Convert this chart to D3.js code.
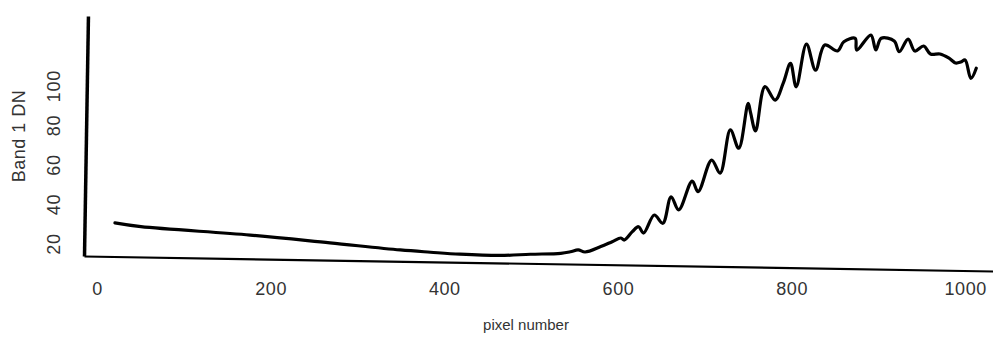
<!DOCTYPE html>
<html>
<head>
<meta charset="utf-8">
<script src="https://cdn.jsdelivr.net/npm/d3@7"></script>
<style>
  html, body { margin: 0; padding: 0; background: #fff; }
  svg { display: block; }
  text { font-family: "Liberation Sans", Arial, Helvetica, sans-serif; fill: #333; }
</style>
</head>
<body>
<svg id="chart" width="993" height="338"></svg>
<script>
// ---- data ----
const pixelNumber = [20,50,176,268,349,384,418,464,499,534,545,554,562,580,593,603,607,616,623,629,641,651,660,669,684,691,706,716,727,737,747,750,756,766,778,787,795,802,813,824,834,849,856,869,871,887,893,899,914,920,930,938,948,956,967,977,985,991,996,1003,1009];
const band1DN = [30.7,29,25.7,22.4,19.4,18.5,17.75,17.45,18.3,19.05,19.9,20.9,19.9,22.8,25.35,27.3,26.3,30.6,33.15,30.0,39.2,35.1,48.6,42,56.7,51.4,67.5,60.9,82.9,73.7,96.5,91.7,82.6,105.1,98.4,107,117.1,105.3,127,113.9,126.7,123.8,128.5,130.3,124.4,132.1,124.6,130.6,129.3,123.9,130.4,124.4,127,123,123.1,121.2,118.7,119.2,120.3,111,116.2];
const xTicks = [0,200,400,600,800,1000];
const yTicks = [20,40,60,80,100];
const xTitle = "pixel number";
const yTitle = "Band 1 DN";

const svg = d3.select("#chart");
const x = d3.scaleLinear().domain([-15, 1032]).range([84, 993]);
const y = d3.scaleLinear().domain([13.7, 135.2]).range([256, 16]);

// slightly tilted plot frame (scanned figure)
const plot = svg.append("g").attr("transform", "rotate(0.945, 84, 256)");

const line = d3.line()
  .x((d, i) => x(pixelNumber[i]))
  .y(d => y(d))
  .curve(d3.curveCatmullRom.alpha(0.5));
plot.append("path")
  .datum(band1DN)
  .attr("d", line)
  .attr("fill", "none")
  .attr("stroke", "#000")
  .attr("stroke-width", 3.2)
  .attr("stroke-linejoin", "round")
  .attr("stroke-linecap", "round");

// axis lines
const xAxisLine = plot.append("g").attr("transform", `translate(0,${y.range()[0]})`)
  .call(d3.axisBottom(x).tickValues([]).tickSizeOuter(0));
xAxisLine.select(".domain").attr("stroke", "#000").attr("stroke-width", 2.2);
const yAxisLine = plot.append("g").attr("transform", `translate(${x.range()[0]},0)`)
  .call(d3.axisLeft(y).tickValues([]).tickSizeOuter(0));
yAxisLine.select(".domain").attr("stroke", "#000").attr("stroke-width", 3.5);

// x tick labels
const xLab = svg.append("g").attr("transform", "translate(0,279)")
  .call(d3.axisBottom(x).tickValues(xTicks).tickSize(0).tickFormat(d3.format("d")));
xLab.select(".domain").remove();
xLab.selectAll("text")
  .attr("font-size", 18)
  .attr("fill", "#333")
  .attr("letter-spacing", 0.6)
  .style("font-family", '"Liberation Sans", Arial, sans-serif');

// y tick labels (rotated)
const yLab = svg.append("g").attr("transform", "translate(84,0)")
  .call(d3.axisLeft(y).tickValues(yTicks).tickSize(0));
yLab.select(".domain").remove();
yLab.selectAll("text")
  .attr("x", 0).attr("dy", 0)
  .attr("text-anchor", "middle")
  .attr("transform", "translate(-24,0) rotate(-90)")
  .attr("font-size", 18)
  .attr("letter-spacing", 0.8)
  .attr("fill", "#333")
  .style("font-family", '"Liberation Sans", Arial, sans-serif');

// titles
svg.append("text")
  .attr("x", 526).attr("y", 330)
  .attr("text-anchor", "middle")
  .attr("font-size", 15)
  .text(xTitle);
svg.append("text")
  .attr("transform", "translate(25,136) rotate(-90)")
  .attr("text-anchor", "middle")
  .attr("font-size", 18)
  .attr("letter-spacing", 0.5)
  .text(yTitle);
</script>
</body>
</html>
